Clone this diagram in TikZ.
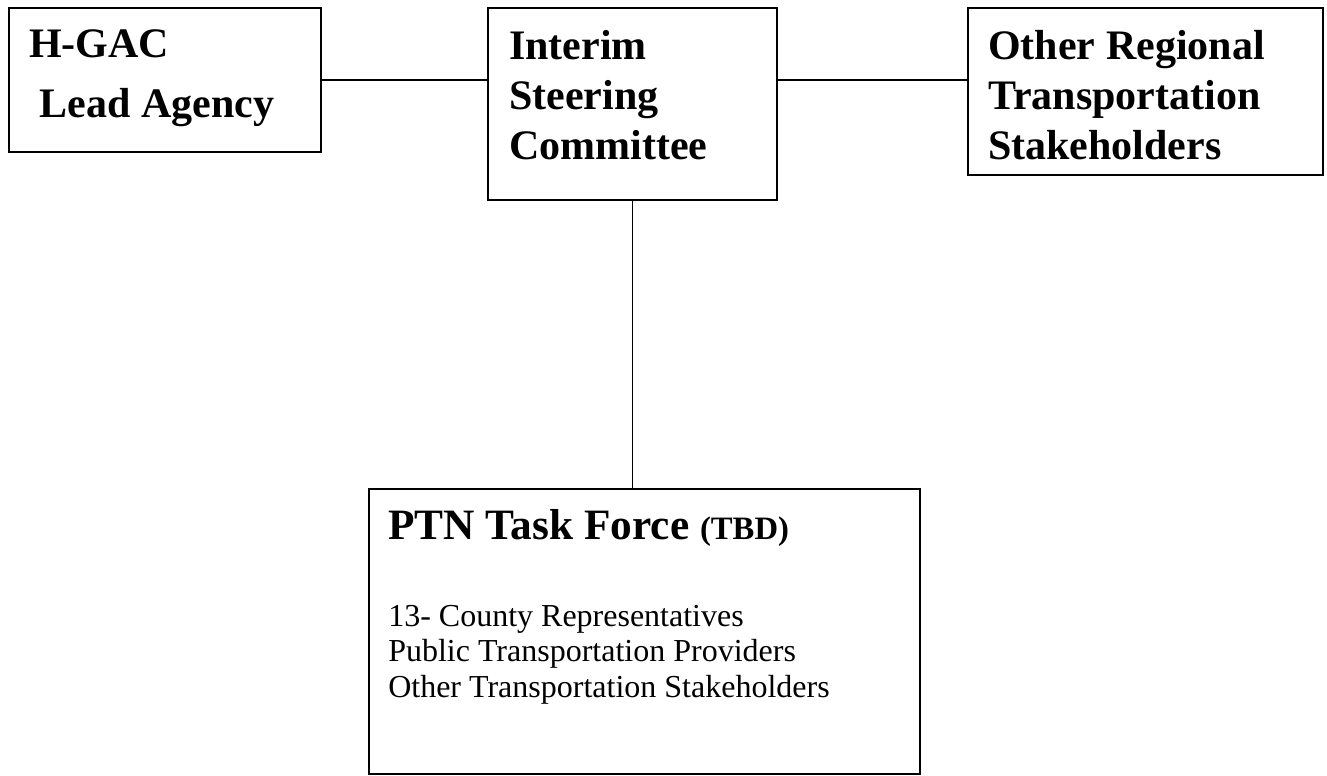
\documentclass[tikz,border=0pt]{standalone}
\usepackage{fontspec}
\setmainfont{Liberation Serif}
\usetikzlibrary{positioning}
\tikzstyle{box}=[draw,line width=1.2pt,anchor=north west,inner sep=0pt]
\tikzstyle{head}=[anchor=north west,inner sep=0pt,align=left,font=\fontsize{31.5}{37.5}\selectfont\bfseries]
\tikzstyle{body}=[anchor=north west,inner sep=0pt,align=left,font=\fontsize{24}{26.6}\selectfont]
\tikzstyle{link}=[line width=1.2pt]

\begin{document}
\begin{tikzpicture}[x=0.75pt,y=-0.75pt]
  \useasboundingbox (0,0) rectangle (1327,775);

  \node (hgac) [box,minimum width=234pt,minimum height=108pt] at (8,7) {};
  \node (steer) [box,minimum width=216.75pt,minimum height=144pt] at (487,7) {};
  \node (other) [box,minimum width=266.25pt,minimum height=125.25pt] at (967,7) {};
  \node (ptn) [box,minimum width=413.25pt,minimum height=213.75pt] at (368,488) {};

  \node (hgactxt) [head,below right=16.5pt and 15.75pt of hgac.north west] {H-GAC\\[7.5pt]\hspace{0.25em}Lead Agency};
  \node (steertxt) [head,below right=17.25pt and 16.5pt of steer.north west] {Interim\\Steering\\Committee};
  \node (othertxt) [head,below right=17.25pt and 15.75pt of other.north west] {Other Regional\\Transportation\\Stakeholders};
  \node (ptntitle) [head,font=\fontsize{32.5}{37.5}\selectfont\bfseries,below right=15.5pt and 15pt of ptn.north west] {PTN Task Force {\fontsize{24.5}{26}\selectfont(TBD)}};
  \node (ptnlist) [body,below right=87.75pt and 15pt of ptn.north west] {13- County Representatives\\Public Transportation Providers\\Other Transportation Stakeholders};

  \draw [link] (hgac.east) -- (hgac.east -| steer.west);
  \draw [link] (steer.east |- hgac.east) -- (hgac.east -| other.west);
  \draw [link] (steer.south) -- (ptn.north -| steer.south);
\end{tikzpicture}
\end{document}
